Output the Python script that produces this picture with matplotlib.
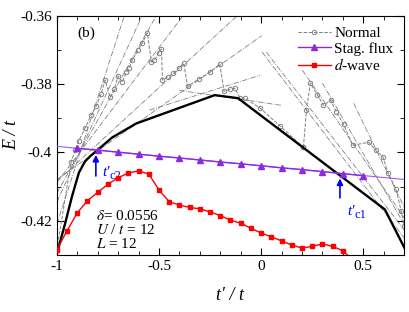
import matplotlib
matplotlib.use("Agg")
import matplotlib.pyplot as plt
from matplotlib.ticker import MultipleLocator, FixedLocator

plt.rcParams["font.family"] = ["Liberation Serif", "DejaVu Serif"]
plt.rcParams["mathtext.fontset"] = "stix"
plt.rcParams["axes.unicode_minus"] = False

# stag. flux: data points and the straight fit drawn under them
flux_t = [-0.9, -0.8, -0.7, -0.6, -0.5, -0.4, -0.3, -0.2, -0.1, 0.0, 0.1, 0.2, 0.3, 0.4, 0.5]
flux_E = [-0.3988, -0.3993, -0.3999, -0.4005, -0.4011, -0.4016, -0.4022, -0.4028,
          -0.4033, -0.4039, -0.4045, -0.4050, -0.4056, -0.4062, -0.4068]
flux_fit_t = [-1.0, 0.7]
flux_fit_E = [-0.3982, -0.4079]

# d-wave
dwave_t = [-1.0, -0.95, -0.9, -0.85, -0.8, -0.75, -0.7, -0.65, -0.6, -0.55, -0.5, -0.45,
           -0.4, -0.35, -0.3, -0.25, -0.2, -0.15, -0.1, -0.05, 0.0, 0.05, 0.1, 0.15,
           0.2, 0.25, 0.3, 0.35, 0.4, 0.45]
dwave_E = [-0.4285, -0.4229, -0.4177, -0.4141, -0.4117, -0.4093, -0.4074, -0.4060,
           -0.4054, -0.4063, -0.4110, -0.4144, -0.4154, -0.4161, -0.4165, -0.4174,
           -0.4185, -0.4198, -0.4207, -0.4222, -0.4236, -0.4247, -0.4259, -0.4271,
           -0.4280, -0.4275, -0.4268, -0.4275, -0.4288, -0.4315]

# lowest energy envelope (thick black)
ground_t = [-1.0, -0.98, -0.956, -0.926, -0.892, -0.862, -0.833, -0.803, -0.729,
            -0.611, -0.227, -0.113, 0.606, 0.704]
ground_E = [-0.4297, -0.4253, -0.4200, -0.4129, -0.4059, -0.4026, -0.4009, -0.3994,
            -0.3956, -0.3915, -0.3832, -0.3841, -0.4167, -0.4282]

# normal state, individual levels (start t, start E, end t, end E)
level_t0 = [-1.0, -1.0, -1.0, -1.0, -1.0, -1.0, -0.547, -0.40, 0.005, 0.025, 0.202, 0.300, 0.453]
level_E0 = [-0.4210, -0.4145, -0.4119, -0.4088, -0.4085, -0.4079, -0.3876, -0.3818,
            -0.3706, -0.3706, -0.3759, -0.3797, -0.3856]
level_t1 = [-0.670, -0.583, -0.514, -0.383, -0.118, 0.003, -0.005, 0.10, 0.704, 0.704, 0.704, 0.704, 0.704]
level_E1 = [-0.36, -0.36, -0.36, -0.36, -0.36, -0.3658, -0.3774, -0.3862,
            -0.4253, -0.4229, -0.4194, -0.4214, -0.4165]

# normal state, lowest level found at each t'
normal_left_t = [-1.0, -0.931, -0.911, -0.892, -0.862, -0.833, -0.808, -0.783, -0.764, -0.739,
                 -0.719, -0.700, -0.680, -0.660, -0.645, -0.631, -0.601, -0.581, -0.557,
                 -0.537, -0.522, -0.502, -0.488, -0.483, -0.458, -0.429, -0.404, -0.379,
                 -0.360, -0.305, -0.251, -0.202, -0.182, -0.153, -0.128, -0.103, -0.079,
                 -0.005, 0.094, 0.207]
normal_left_E = [-0.4285, -0.4029, -0.3994, -0.3965, -0.3929, -0.3891, -0.3865, -0.3829, -0.3788,
                 -0.3838, -0.3815, -0.3776, -0.3794, -0.3765, -0.3753, -0.3729, -0.3700,
                 -0.3679, -0.3650, -0.3735, -0.3729, -0.3709, -0.3697, -0.3788, -0.3779,
                 -0.3768, -0.3753, -0.3738, -0.3806, -0.3785, -0.3765, -0.3741, -0.3821,
                 -0.3815, -0.3812, -0.3841, -0.3841, -0.3870, -0.3923, -0.3985]
normal_right_t = [0.207, 0.222, 0.241, 0.276, 0.305, 0.340, 0.369, 0.404, 0.448, 0.527,
                  0.562, 0.596, 0.621, 0.660, 0.685, 0.700]
normal_right_E = [-0.3985, -0.3876, -0.3797, -0.3832, -0.3862, -0.3847, -0.3882, -0.3918,
                  -0.3979, -0.3970, -0.3994, -0.4012, -0.4059, -0.4106, -0.4170, -0.4214]

tc2 = -0.809
tc1 = 0.386

gray = "#808080"
purple = "#8a2be2"
blue = "#0000ff"

fig = plt.figure(figsize=(4.09, 3.12), dpi=100)
ax = fig.add_axes([0.139, 0.183, 0.849, 0.766])

for t0, e0, t1, e1 in zip(level_t0, level_E0, level_t1, level_E1):
    ax.plot([t0, t1], [e0, e1], color=gray, lw=0.6, ls="-.", zorder=1)

ax.plot(normal_left_t, normal_left_E, color=gray, lw=0.7, ls="--", marker="o",
        ms=3.2, mfc="none", mew=0.7, zorder=2, label="Normal")
ax.plot(normal_right_t, normal_right_E, color=gray, lw=0.7, ls="--", marker="o",
        ms=3.2, mfc="none", mew=0.7, zorder=2)

ax.plot(ground_t, ground_E, color="black", lw=1.7, zorder=3)

ax.plot(flux_fit_t, flux_fit_E, color="#9b59ff", lw=0.8, zorder=4)
ax.plot(flux_t, flux_E, color=purple, lw=1.0, marker="^", ms=5, zorder=5, label="Stag. flux")

ax.plot(dwave_t, dwave_E, color="red", lw=1.0, marker="s", ms=3.5, zorder=5, label="$d$-wave")

# critical t' arrows
ax.annotate("", xy=(tc2, -0.3999), xytext=(tc2, -0.4077),
            arrowprops=dict(arrowstyle="-|>", color=blue, lw=1.2, mutation_scale=9), zorder=6)
ax.text(tc2 + 0.03, -0.4058, "t′", color=blue, fontsize=11, style="italic", va="center")
ax.text(tc2 + 0.065, -0.4068, "c2", color=blue, fontsize=9, va="center")
ax.annotate("", xy=(tc1, -0.4068), xytext=(tc1, -0.4141),
            arrowprops=dict(arrowstyle="-|>", color=blue, lw=1.2, mutation_scale=9), zorder=6)
ax.text(tc1 + 0.035, -0.4172, "t′", color=blue, fontsize=11, style="italic", va="center")
ax.text(tc1 + 0.07, -0.4182, "c1", color=blue, fontsize=9, va="center")

ax.text(-0.9, -0.365, "(b)", fontsize=11, va="center")
ax.text(-0.81, -0.4185, r"$\delta$= 0.0556", fontsize=11, va="center")
ax.text(-0.81, -0.4226, r"$U$ / $t$ = 12", fontsize=11, va="center")
ax.text(-0.81, -0.4267, r"$L$ = 12", fontsize=11, va="center")

ax.set_xlim(-1, 0.7)
ax.set_ylim(-0.43, -0.36)
ax.xaxis.set_major_locator(FixedLocator([-1, -0.5, 0, 0.5]))
ax.set_xticklabels(["-1", "-0.5", "0", "0.5"])
ax.xaxis.set_minor_locator(MultipleLocator(0.1))
ax.yaxis.set_major_locator(FixedLocator([-0.42, -0.40, -0.38, -0.36]))
ax.set_yticklabels(["-0.42", "-0.4", "-0.38", "-0.36"])
ax.yaxis.set_minor_locator(MultipleLocator(0.01))
ax.tick_params(which="both", direction="in", top=True, right=True, labelsize=11)
ax.tick_params(which="major", length=5)
ax.tick_params(which="minor", length=3)

ax.set_xlabel("t′ / t", fontsize=13, style="italic", labelpad=10)
ax.set_ylabel("E / t", fontsize=13, style="italic", labelpad=2)
ax.yaxis.set_label_coords(-0.105, 0.5)

ax.legend(loc="upper right", frameon=False, fontsize=11, handlelength=2.2,
          handletextpad=0.2, labelspacing=0.1, borderaxespad=0.3)

fig.savefig("out.png", dpi=100)
